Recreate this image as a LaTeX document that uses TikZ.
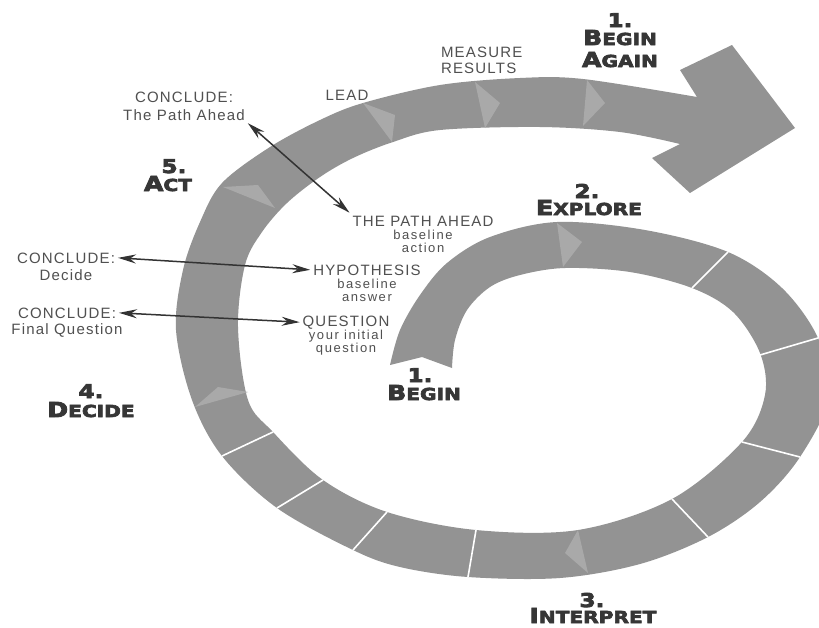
\documentclass[tikz,border=0pt]{standalone}
\usepackage{fontspec}
\usepackage{tikz}
\usetikzlibrary{arrows.meta}
\setmainfont{Liberation Sans}
\newfontfamily\labelfont[LetterSpace=8]{Liberation Sans}
\newfontfamily\sublabelfont[LetterSpace=12]{Liberation Sans}
\newfontfamily\headfont[FakeStretch=1.22,FakeBold=4]{DejaVu Sans Bold}
\newcommand{\stagenum}[1]{{\fontsize{19}{19}\selectfont #1}}
\newcommand{\stageword}[2]{{\fontsize{20.6}{21}\selectfont #1}{\fontsize{16.5}{17}\selectfont #2}}
\definecolor{bandgray}{HTML}{939393}
\definecolor{markgray}{HTML}{A9A9A9}
\definecolor{textgray}{HTML}{505050}
\definecolor{headgray}{HTML}{363636}
\definecolor{linkgray}{HTML}{333333}

\begin{document}
\begin{tikzpicture}[x=1pt, y=-1pt,
  band/.style={fill=bandgray},
  marker/.style={fill=markgray},
  seam/.style={draw=white, line width=1.6pt},
  lab/.style={font=\labelfont\fontsize{15}{15}\selectfont, text=textgray, anchor=base, inner sep=0pt, outer sep=3pt},
  sub/.style={font=\sublabelfont\fontsize{13}{12.5}\selectfont, text=textgray, anchor=north, align=center, inner sep=0pt},
  stage/.style={font=\headfont, text=headgray, anchor=base, inner sep=0pt},
  tip/.tip={Stealth[length=18pt,width=9pt,inset=6pt]},
  link/.style={draw=linkgray, line width=1.5pt, tip-tip}]
  \clip (0,0) rectangle (819,627);
  \fill[white] (0,0) rectangle (819,627);

  \fill[band] plot[smooth, tension=0.55] coordinates {
    (390,365) (400,330) (420,295) (447,263) (490,237) (557,222) (645,230)
    (728,252) (782,288) (818,338) (830,395) (800,457) (760,502) (708,537)
    (640,564) (560,578) (468,577) (400,567) (353,550) (277,508) (222,456)
    (192,400) (176,330) (183,270) (200,222) (222,183) (270,147) (320,120)
    (363,103) (440,85) (520,78) (583,79) (697,97)}
    -- (680,70) -- (732,45) -- (795,128) -- (690,193) -- (652,158) -- (680,144)
    -- plot[smooth, tension=0.55] coordinates {
    (680,144) (620,132) (540,127) (440,130) (393,142) (353,158) (320,177)
    (287,203) (262,232) (245,265) (238,327) (248,400) (273,432) (323,480)
    (387,512) (476,530) (578,530) (672,499) (742,442) (765,395) (760,353)
    (733,312) (692,288) (630,272) (565,268) (520,275) (490,287) (467,310)
    (455,340) (452,368)}
    -- (422,357) -- cycle;

  \fill[marker] (363,103) -- (395,115) -- (392,142) -- cycle;
  \fill[marker] (475,82) -- (500,103) -- (485,128) -- cycle;
  \fill[marker] (587,80) -- (605,103) -- (583,126) -- cycle;
  \fill[marker] (557,223) -- (582,242) -- (563,267) -- cycle;
  \fill[marker] (578,530) -- (565,553) -- (588,573) -- cycle;
  \fill[marker] (195,407) -- (218,387) -- (248,392) -- cycle;
  \fill[marker] (223,187) -- (258,185) -- (275,208) -- cycle;

  \draw[seam] (728,252) -- (692,288);
  \draw[seam] (818,338) -- (760,355);
  \draw[seam] (800,457) -- (742,442);
  \draw[seam] (708,537) -- (672,499);
  \draw[seam] (468,577) -- (476,530);
  \draw[seam] (353,550) -- (387,512);
  \draw[seam] (277,508) -- (323,480);
  \draw[seam] (222,456) -- (273,432);

  \node[stage] (again-num) at (620,27) {\stagenum{1.}};
  \node[stage] (again-a) at (620,45) {\stageword{B}{EGIN}};
  \node[stage] (again-b) at (620,67) {\stageword{A}{GAIN}};
  \node[stage] (explore-num) at (587,198) {\stagenum{2.}};
  \node[stage] (explore) at (589,215) {\stageword{E}{XPLORE}};
  \node[stage] (begin-num) at (420,382) {\stagenum{1.}};
  \node[stage] (begin) at (424,400) {\stageword{B}{EGIN}};
  \node[stage] (interpret-num) at (592,607) {\stagenum{3.}};
  \node[stage] (interpret) at (593,623) {\stageword{I}{NTERPRET}};
  \node[stage] (decide-num) at (91,398) {\stagenum{4.}};
  \node[stage] (decide) at (91,417) {\stageword{D}{ECIDE}};
  \node[stage] (act-num) at (174,173) {\stagenum{5.}};
  \node[stage] (act) at (168,191) {\stageword{A}{CT}};

  \node[lab] (lead) at (347,100) {LEAD};
  \node[lab, anchor=base west] (measure) at (438,57) {MEASURE};
  \node[lab, anchor=base west] (results) at (438,73) {RESULTS};

  \node[lab] (cpath) at (184,102) {CONCLUDE:};
  \node[lab] (cpath-sub) at (184,120) {The Path Ahead};
  \node[lab] (cdecide) at (66,263) {CONCLUDE:};
  \node[lab] (cdecide-sub) at (66,280) {Decide};
  \node[lab] (cfinal) at (67,318) {CONCLUDE:};
  \node[lab] (cfinal-sub) at (67,334) {Final Question};

  \node[lab] (path) at (423,226) {THE PATH AHEAD};
  \node[sub] (path-sub) at (423,230) {baseline\\action};
  \node[lab] (hyp) at (367,275) {HYPOTHESIS};
  \node[sub] (hyp-sub) at (367,279) {baseline\\answer};
  \node[lab] (quest) at (346,326) {QUESTION};
  \node[sub] (quest-sub) at (346,330) {your initial\\question};

  \draw[link] (cpath-sub.south east) -- (path.north west);
  \draw[link] (cdecide.east) -- (hyp.west);
  \draw[link] (cfinal.east) -- (quest.west);
\end{tikzpicture}
\end{document}
